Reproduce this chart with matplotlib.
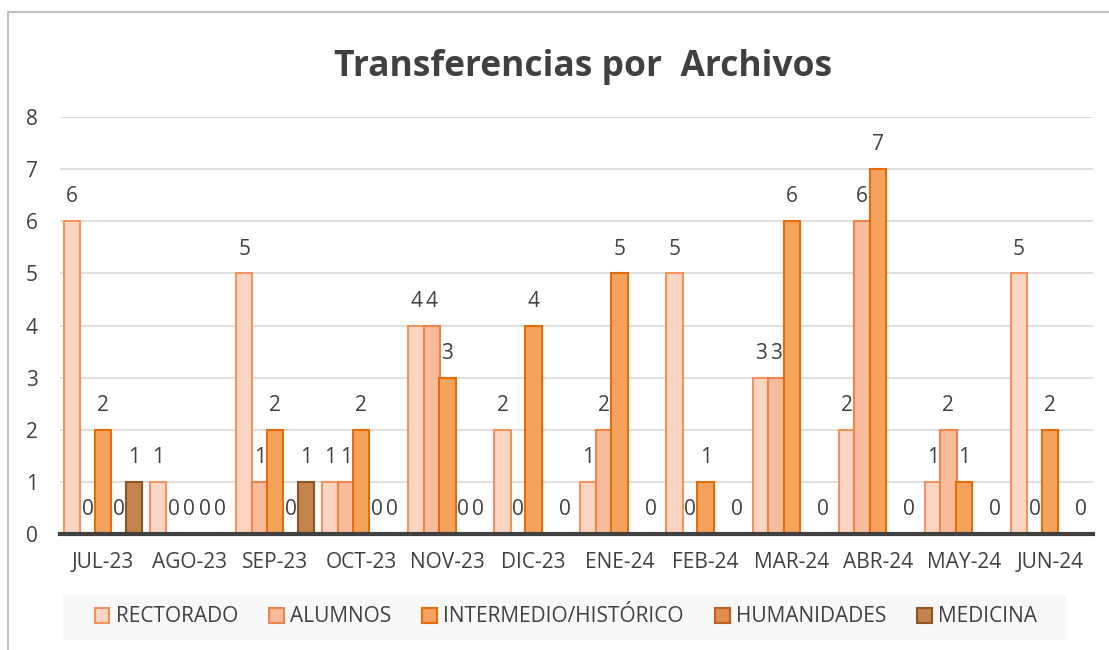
import numpy as np
import matplotlib
matplotlib.use("Agg")
import matplotlib.pyplot as plt
from matplotlib.lines import Line2D
from matplotlib.patches import Rectangle

plt.rcParams['font.family'] = ['Open Sans', 'DejaVu Sans']

# Data
months = ["JUL-23", "AGO-23", "SEP-23", "OCT-23", "NOV-23", "DIC-23",
          "ENE-24", "FEB-24", "MAR-24", "ABR-24", "MAY-24", "JUN-24"]
rectorado = [6, 1, 5, 1, 4, 2, 1, 5, 3, 2, 1, 5]
alumnos = [0, 0, 1, 1, 4, 0, 2, 0, 3, 6, 2, 0]
intermedio = [2, 0, 2, 2, 3, 4, 5, 1, 6, 7, 1, 2]
humanidades = [0, 0, 0, 0, 0, None, None, None, None, None, None, None]
medicina = [1, 0, 1, 0, 0, 0, 0, 0, 0, 0, 0, 0]

series = [
    ("RECTORADO", rectorado, "#FBD5C2", "#F3915F"),
    ("ALUMNOS", alumnos, "#F8BC9C", "#EE8449"),
    ("INTERMEDIO/HISTÓRICO", intermedio, "#F5A35C", "#E46C0A"),
    ("HUMANIDADES", humanidades, "#DF8F4F", "#C0601A"),
    ("MEDICINA", medicina, "#C4834B", "#8A5527"),
]

W, H = 1109, 650
fig = plt.figure(figsize=(W / 100, H / 100), dpi=100)
ax = fig.add_axes([60 / W, (H - 534) / H, (1093 - 60) / W, (534 - 117) / H])

x = np.arange(len(months))
step = 0.18
bw = 0.19
txt = "#404040"
fs = 15

for i, (name, vals, face, edge) in enumerate(series):
    off = (i - 2) * step
    xs = [xi + off for xi, v in zip(x, vals) if v is not None]
    vs = [v for v in vals if v is not None]
    ax.bar(xs, vs, width=bw, color=face, edgecolor=edge, linewidth=1.5,
           label=name, zorder=3)
    for xx, v in zip(xs, vs):
        ax.annotate(str(v), (xx, v), xytext=(0, 17.5), textcoords="offset points",
                    ha="center", va="center", fontsize=fs, color=txt, zorder=4)

ax.set_xlim(-0.5, len(months) - 0.5)
ax.set_ylim(0, 8)
ax.set_yticks(range(0, 9))
ax.set_xticks(x)
ax.set_xticklabels(months)
ax.tick_params(axis="both", length=0, labelsize=fs, colors=txt)
ax.tick_params(axis="y", pad=16)
ax.tick_params(axis="x", pad=13)
ax.yaxis.grid(True, color="#D9D9D9", linewidth=1.2, zorder=0)
ax.set_axisbelow(True)
for s in ["top", "right", "left"]:
    ax.spines[s].set_visible(False)
ax.spines["bottom"].set_color("#404040")
ax.spines["bottom"].set_linewidth(3)
ax.spines["bottom"].set_zorder(5)

fig.text(583 / W, (H - 67) / H, "Transferencias por  Archivos", ha="center",
         va="center", fontsize=25.5, fontweight="bold", color=txt)

# legend background
fig.add_artist(Rectangle((63 / W, (H - 640) / H), (1067 - 63) / W, 45 / H,
                         transform=fig.transFigure, facecolor="#F8F8F8",
                         edgecolor="none", zorder=0))
handles, labels = ax.get_legend_handles_labels()
fig.legend(handles, labels, loc="center", bbox_to_anchor=(566 / W, (H - 617) / H),
           ncol=5, frameon=False, fontsize=fs, labelcolor=txt,
           handlelength=0.7, handleheight=0.7, handletextpad=0.3,
           columnspacing=1.5)

# chart border
fig.add_artist(Line2D([8 / W, 8 / W], [0, (H - 12) / H], color="#BFBFBF",
                      linewidth=1.5, transform=fig.transFigure))
fig.add_artist(Line2D([8 / W, 1], [(H - 12) / H, (H - 12) / H], color="#BFBFBF",
                      linewidth=1.5, transform=fig.transFigure))

fig.savefig("out.png", dpi=100)
